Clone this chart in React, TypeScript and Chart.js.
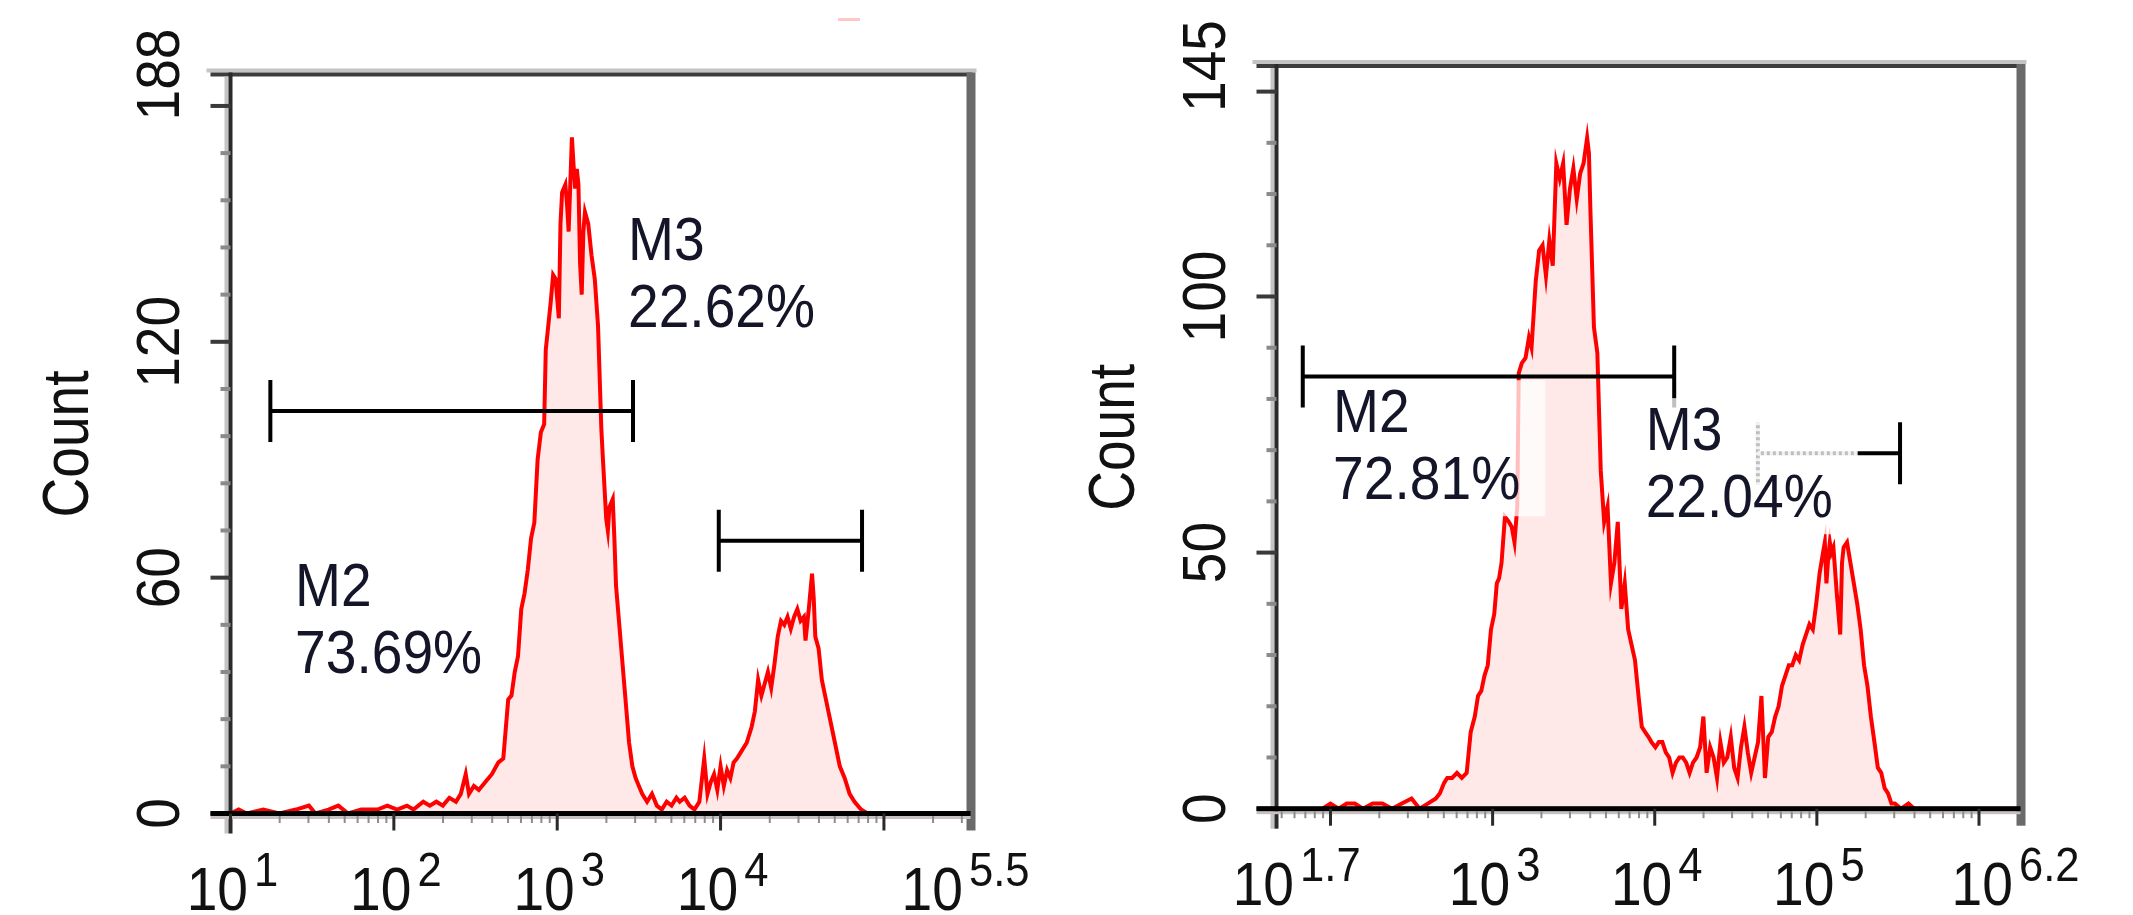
import React, { useEffect, useRef } from "react";
import { Chart, registerables } from "chart.js";

Chart.register(...registerables);

// ---------- Left histogram (log10 of intensity, count) ----------
const leftExp = [
  1.0, 1.05, 1.1, 1.2, 1.3, 1.4, 1.48, 1.52, 1.6, 1.66, 1.72, 1.8,
  1.9, 1.96, 2.02, 2.08, 2.12, 2.18, 2.22, 2.26, 2.3, 2.34, 2.38, 2.41,
  2.44, 2.46, 2.49, 2.52, 2.56, 2.6, 2.64, 2.67, 2.7, 2.72, 2.74, 2.76,
  2.78, 2.8, 2.82, 2.84, 2.86, 2.88, 2.9, 2.92, 2.93, 2.94, 2.96, 2.975,
  2.99, 3.01, 3.02, 3.03, 3.05, 3.06, 3.07, 3.09, 3.1, 3.11, 3.12, 3.13,
  3.14, 3.15, 3.16, 3.17, 3.19, 3.21, 3.23, 3.25, 3.27, 3.28, 3.3, 3.31,
  3.32, 3.34, 3.35, 3.36, 3.38, 3.4, 3.42, 3.44, 3.46, 3.48, 3.5, 3.52,
  3.55, 3.58, 3.61, 3.64, 3.67, 3.7, 3.73, 3.75, 3.78, 3.81, 3.84, 3.87,
  3.9, 3.92, 3.94, 3.96, 3.98, 4.0, 4.02, 4.04, 4.06, 4.08, 4.1, 4.13,
  4.16, 4.19, 4.21, 4.23, 4.25, 4.27, 4.29, 4.31, 4.33, 4.35, 4.37, 4.39,
  4.41, 4.43, 4.45, 4.47, 4.49, 4.51, 4.52, 4.54, 4.56, 4.57, 4.58, 4.6,
  4.62, 4.64, 4.66, 4.68, 4.7, 4.73, 4.76, 4.79, 4.82, 4.86, 4.9, 5.0,
];
const leftCount = [
  0, 1, 0, 1, 0, 1, 2, 0, 1, 2, 0, 1,
  1, 2, 1, 2, 1, 3, 2, 3, 2, 4, 3, 5,
  10, 5, 7, 6, 8, 10, 13, 14, 29, 30, 36, 40,
  52, 56, 62, 70, 74, 90, 97, 99, 118, 122, 130, 137,
  136, 126, 150, 158, 160, 155, 148, 172, 165, 159, 164, 160,
  140, 132, 148, 153, 150, 142, 136, 124, 98, 90, 75, 72,
  78, 80, 70, 58, 48, 38, 28, 18, 12, 9, 7, 5,
  3, 5, 2, 1, 3, 2, 4, 3, 4, 2, 1, 3,
  14, 5, 8, 10, 6, 12, 7, 11, 9, 13, 14, 16,
  18, 22, 26, 34, 30, 33, 36, 32, 38, 45, 49, 48,
  50, 47, 50, 52, 49, 50, 44, 52, 61, 55, 45, 42,
  34, 30, 26, 22, 18, 12, 9, 5, 3, 1, 0, 0,
];

// ---------- Right histogram ----------
const rightExp = [
  1.95, 2.0, 2.05, 2.1, 2.15, 2.2, 2.26, 2.32, 2.38, 2.44, 2.5, 2.55,
  2.6, 2.65, 2.675, 2.7, 2.72, 2.75, 2.78, 2.81, 2.84, 2.865, 2.89, 2.91,
  2.93, 2.95, 2.97, 2.99, 3.01, 3.026, 3.04, 3.055, 3.076, 3.1, 3.118, 3.135,
  3.152, 3.161, 3.18, 3.203, 3.224, 3.24, 3.266, 3.287, 3.308, 3.329, 3.35, 3.371,
  3.393, 3.414, 3.435, 3.456, 3.477, 3.498, 3.519, 3.54, 3.561, 3.583, 3.594, 3.604,
  3.625, 3.646, 3.667, 3.688, 3.709, 3.73, 3.751, 3.772, 3.794, 3.815, 3.836, 3.857,
  3.878, 3.9, 3.92, 3.94, 3.962, 3.98, 4.004, 4.025, 4.047, 4.068, 4.089, 4.11,
  4.131, 4.152, 4.173, 4.194, 4.215, 4.236, 4.258, 4.28, 4.3, 4.32, 4.342, 4.363,
  4.384, 4.405, 4.426, 4.447, 4.469, 4.49, 4.511, 4.532, 4.553, 4.574, 4.595, 4.616,
  4.637, 4.658, 4.68, 4.7, 4.722, 4.743, 4.764, 4.785, 4.806, 4.827, 4.848, 4.87,
  4.891, 4.912, 4.933, 4.954, 4.975, 4.996, 5.017, 5.038, 5.049, 5.059, 5.07, 5.08,
  5.09, 5.102, 5.123, 5.144, 5.155, 5.165, 5.186, 5.207, 5.228, 5.249, 5.27, 5.291,
  5.312, 5.333, 5.355, 5.376, 5.397, 5.418, 5.439, 5.46, 5.481, 5.52, 5.565, 5.6,
];
const rightCount = [
  0, 1, 0, 1, 1, 0, 1, 1, 0, 1, 2, 0,
  1, 2, 3, 5, 6, 6, 7, 6, 7, 15, 18, 22,
  23, 26, 28, 35, 38, 44, 45, 48, 57, 56, 55, 52,
  59, 85, 87, 88, 92, 90, 103, 109, 110, 104, 111, 106,
  126, 123, 126, 114, 121, 125, 119, 124, 126, 131, 128, 116,
  94, 89, 66, 56, 59, 44, 48, 56, 39, 44, 35, 32,
  29, 22, 16, 15, 14, 13, 12, 13, 13, 11, 10, 7,
  9, 10, 10, 9, 7, 9, 10, 12, 18, 7, 12, 10,
  6, 13, 9, 10, 14, 8, 6, 12, 16, 11, 7, 10,
  13, 22, 6, 14, 15, 18, 20, 24, 26, 28, 28, 30,
  29, 32, 34, 36, 35, 40, 46, 50, 52, 44, 49, 52,
  50, 51, 42, 34, 48, 51, 52, 48, 44, 40, 35, 28,
  24, 18, 13, 8, 7, 4, 3, 1, 1, 0, 1, 0,
];

// ---------- Axes ----------
const leftXRange = [1, 5.53];
const rightXRange = [1.667, 6.256];
const leftYMax = 188;
const rightYMax = 145;
const leftYLabelValues = [0, 60, 120, 188];
const leftYLabelTexts = ["0", "60", "120", "188"];
const rightYLabelValues = [0, 50, 100, 145];
const rightYLabelTexts = ["0", "50", "100", "145"];
const leftYMajorTicks = [0, 60, 120, 180];
const rightYMajorTicks = [0, 50, 100, 140];
const leftYTickStep = 12;
const rightYTickStep = 10;
const leftXLabelExp = [1, 2, 3, 4, 5.53];
const leftXLabelSup = ["1", "2", "3", "4", "5.5"];
const rightXLabelExp = [1.667, 3, 4, 5, 6.256];
const rightXLabelSup = ["1.7", "3", "4", "5", "6.2"];

// ---------- Gates (markers) ----------
const leftGateStart = [1.244, 3.989];
const leftGateEnd = [3.464, 4.866];
const leftGateLevel = [102.4, 69.4];
const rightGateStart = [1.829, 4.636];
const rightGateEnd = [4.12, 5.513];
const rightGateLevel = [84.4, 69.4];

// ---------- Gate labels ----------
const leftLabelNames = ["M2", "M3"];
const leftLabelPercents = ["73.69%", "22.62%"];
const leftLabelExp = [1.395, 3.433];
const leftLabelCount = [52.8, 140.8];
const rightLabelNames = ["M2", "M3"];
const rightLabelPercents = ["72.81%", "22.04%"];
const rightLabelExp = [2.016, 3.944];
const rightLabelCount = [73.5, 70.0];

const FONT = '"Liberation Sans", Arial, Helvetica, sans-serif';
const SX = 0.89;

type Spec = {
  exp: number[];
  count: number[];
  xRange: number[];
  yMax: number;
  width: number;
  height: number;
  L: number;
  R: number;
  T: number;
  B: number;
  yLabelValues: number[];
  yLabelTexts: string[];
  yMajor: number[];
  yStep: number;
  xLabelExp: number[];
  xLabelSup: string[];
  gateStart: number[];
  gateEnd: number[];
  gateLevel: number[];
  labelNames: string[];
  labelPercents: string[];
  labelExp: number[];
  labelCount: number[];
  boxed: boolean;
  artifact: boolean;
};

function drawText(
  ctx: CanvasRenderingContext2D,
  s: string,
  x: number,
  y: number,
  size: number,
  sx: number,
  align: CanvasTextAlign,
  color: string
) {
  ctx.save();
  ctx.translate(x, y);
  ctx.scale(sx, 1);
  ctx.font = `${size}px ${FONT}`;
  ctx.textAlign = align;
  ctx.textBaseline = "alphabetic";
  ctx.fillStyle = color;
  ctx.fillText(s, 0, 0);
  ctx.restore();
}

function drawRotated(
  ctx: CanvasRenderingContext2D,
  s: string,
  cx: number,
  cy: number,
  size: number,
  sx: number,
  color: string
) {
  ctx.save();
  ctx.translate(cx, cy);
  ctx.rotate(-Math.PI / 2);
  ctx.scale(sx, 1);
  ctx.font = `${size}px ${FONT}`;
  ctx.textAlign = "center";
  ctx.textBaseline = "alphabetic";
  ctx.fillStyle = color;
  ctx.fillText(s, 0, 0.358 * size);
  ctx.restore();
}

function makePlugin(spec: Spec) {
  return {
    id: "flowDeco",
    afterDatasetsDraw(chart: any) {
      const ctx: CanvasRenderingContext2D = chart.ctx;
      const xs = chart.scales.x;
      const ys = chart.scales.y;
      const px = (e: number) => xs.getPixelForValue(Math.pow(10, e));
      const py = (v: number) => ys.getPixelForValue(v);
      const { left: L, right: R, top: T, bottom: B } = chart.chartArea;
      ctx.save();

      // gates
      ctx.strokeStyle = "#000";
      ctx.lineWidth = 4;
      ctx.lineCap = "butt";
      spec.gateStart.forEach((s, i) => {
        const x1 = px(s);
        const x2 = px(spec.gateEnd[i]);
        const y = py(spec.gateLevel[i]);
        ctx.beginPath();
        ctx.moveTo(x1, y);
        ctx.lineTo(x2, y);
        ctx.moveTo(x1, y - 31);
        ctx.lineTo(x1, y + 31);
        ctx.moveTo(x2, y - 31);
        ctx.lineTo(x2, y + 31);
        ctx.stroke();
      });

      // labels (with translucent backing boxes where the original had them)
      const textColor = "#15152a";
      const lineGap = 67;
      spec.labelNames.forEach((name, i) => {
        const x = px(spec.labelExp[i]);
        const y = py(spec.labelCount[i]);
        if (spec.boxed) {
          ctx.font = `62px ${FONT}`;
          const w =
            Math.max(
              ctx.measureText(name).width,
              ctx.measureText(spec.labelPercents[i]).width
            ) * SX;
          ctx.fillStyle = "rgba(255,255,255,0.75)";
          ctx.fillRect(x, y - 52, w + 25, lineGap + 52 + 17);
          // dotted look of the faded marker part
          ctx.strokeStyle = "rgba(255,255,255,0.8)";
          ctx.lineWidth = 5;
          ctx.setLineDash([3, 3]);
          const gy = py(spec.gateLevel[i]);
          const gx = px(spec.gateStart[i]);
          ctx.beginPath();
          if (gx > x && gx < x + w + 25) {
            ctx.moveTo(gx, gy);
            ctx.lineTo(x + w + 25, gy);
            ctx.moveTo(gx, gy - 31);
            ctx.lineTo(gx, gy + 31);
          }
          ctx.stroke();
          ctx.setLineDash([]);
        }
        drawText(ctx, name, x, y, 62, SX, "left", textColor);
        drawText(ctx, spec.labelPercents[i], x, y + lineGap, 62, SX, "left", textColor);
      });

      // frame: top
      ctx.fillStyle = "#c4c4c4";
      ctx.fillRect(L - 24, T - 6, R - L + 30, 4);
      ctx.fillStyle = "#3c3c3c";
      ctx.fillRect(L - 20, T - 2, R - L + 22, 4);
      // left
      ctx.fillStyle = "#c4c4c4";
      ctx.fillRect(L - 6, T + 2, 4, B - T + 18);
      ctx.fillStyle = "#2a2a2a";
      ctx.fillRect(L - 2, T - 2, 4, B - T + 22);
      // right
      ctx.fillStyle = "#6a6a6a";
      ctx.fillRect(R - 4, T - 2, 9, B - T + 19);

      // y ticks
      for (let v = 0; v <= spec.yMax; v += spec.yStep) {
        const y = py(v);
        if (spec.yMajor.indexOf(v) >= 0) {
          ctx.fillStyle = "#3a3a3a";
          ctx.fillRect(L - 20, y - 2, 20, 4);
        } else {
          ctx.fillStyle = "#8a8a8a";
          ctx.fillRect(L - 10, y - 2, 10, 4);
        }
      }

      // bottom axis
      ctx.fillStyle = "#c6c0c0";
      ctx.fillRect(L - 20, B + 2.5, R - L + 20, 3);
      ctx.fillStyle = "#000";
      ctx.fillRect(L - 20, B - 2.5, R - L + 20, 5);

      // x ticks
      const [xMin, xMax] = spec.xRange;
      for (let d = Math.floor(xMin); d <= Math.ceil(xMax); d++) {
        for (let k = 1; k <= 9; k++) {
          const e = d + Math.log10(k);
          if (e < xMin - 1e-6 || e > xMax + 1e-6) continue;
          const x = px(e);
          if (k === 1) {
            ctx.fillStyle = "#2a2a2a";
            ctx.fillRect(x - 1.5, B, 3, 17);
          } else {
            ctx.fillStyle = "#8c8c8c";
            ctx.fillRect(x - 1, B + 2.5, 2, 7);
          }
        }
      }

      // y labels
      spec.yLabelValues.forEach((v, i) => {
        drawRotated(ctx, spec.yLabelTexts[i], L - 73.5, py(v), 62, SX, "#111");
      });
      // axis title
      drawRotated(ctx, "Count", L - 165, (T + B) / 2, 64, 0.86, "#111");

      // x labels: 10 with superscript exponent
      spec.xLabelExp.forEach((e, i) => {
        const x = px(e);
        const sup = spec.xLabelSup[i];
        ctx.font = `62px ${FONT}`;
        const w1 = ctx.measureText("10").width * SX;
        ctx.font = `49px ${FONT}`;
        const w2 = ctx.measureText(sup).width * SX;
        const wOne = ctx.measureText("1").width * SX;
        const gap = 6;
        const last = i === spec.xLabelExp.length - 1;
        const start = last
          ? x - 5 - (w1 + gap + w2) / 2
          : x + 2 - (w1 + gap + wOne) / 2;
        drawText(ctx, "10", start, B + 96, 62, SX, "left", "#111");
        drawText(ctx, sup, start + w1 + gap, B + 72, 49, SX, "left", "#111");
      });

      if (spec.artifact) {
        ctx.fillStyle = "#ffc8c8";
        ctx.fillRect(838, 18, 22, 3);
      }
      ctx.restore();
    },
  };
}

function makeChart(canvas: HTMLCanvasElement, spec: Spec) {
  const points = spec.exp.map((e, i) => ({ x: Math.pow(10, e), y: spec.count[i] }));
  return new Chart(canvas, {
    type: "line",
    data: {
      datasets: [
        {
          data: points,
          borderColor: "#ff0000",
          borderWidth: 4,
          backgroundColor: "rgba(255,0,0,0.09)",
          fill: "origin",
          pointRadius: 0,
          tension: 0,
        },
      ],
    },
    options: {
      responsive: false,
      animation: false,
      events: [],
      layout: {
        padding: {
          left: spec.L,
          right: spec.width - spec.R,
          top: spec.T,
          bottom: spec.height - spec.B,
        },
      },
      plugins: { legend: { display: false }, tooltip: { enabled: false } },
      scales: {
        x: {
          type: "logarithmic",
          min: Math.pow(10, spec.xRange[0]),
          max: Math.pow(10, spec.xRange[1]),
          display: false,
        },
        y: { type: "linear", min: 0, max: spec.yMax, display: false },
      },
    } as any,
    plugins: [makePlugin(spec) as any],
  });
}

const leftSpec: Spec = {
  exp: leftExp,
  count: leftCount,
  xRange: leftXRange,
  yMax: leftYMax,
  width: 1066,
  height: 915,
  L: 230.5,
  R: 970.5,
  T: 74.5,
  B: 813.5,
  yLabelValues: leftYLabelValues,
  yLabelTexts: leftYLabelTexts,
  yMajor: leftYMajorTicks,
  yStep: leftYTickStep,
  xLabelExp: leftXLabelExp,
  xLabelSup: leftXLabelSup,
  gateStart: leftGateStart,
  gateEnd: leftGateEnd,
  gateLevel: leftGateLevel,
  labelNames: leftLabelNames,
  labelPercents: leftLabelPercents,
  labelExp: leftLabelExp,
  labelCount: leftLabelCount,
  boxed: false,
  artifact: true,
};

const rightSpec: Spec = {
  exp: rightExp,
  count: rightCount,
  xRange: rightXRange,
  yMax: rightYMax,
  width: 1067,
  height: 915,
  L: 210.5,
  R: 954.5,
  T: 66,
  B: 808.7,
  yLabelValues: rightYLabelValues,
  yLabelTexts: rightYLabelTexts,
  yMajor: rightYMajorTicks,
  yStep: rightYTickStep,
  xLabelExp: rightXLabelExp,
  xLabelSup: rightXLabelSup,
  gateStart: rightGateStart,
  gateEnd: rightGateEnd,
  gateLevel: rightGateLevel,
  labelNames: rightLabelNames,
  labelPercents: rightLabelPercents,
  labelExp: rightLabelExp,
  labelCount: rightLabelCount,
  boxed: true,
  artifact: false,
};

export default function App() {
  const leftRef = useRef<HTMLCanvasElement>(null);
  const rightRef = useRef<HTMLCanvasElement>(null);
  useEffect(() => {
    const c1 = makeChart(leftRef.current as HTMLCanvasElement, leftSpec);
    const c2 = makeChart(rightRef.current as HTMLCanvasElement, rightSpec);
    return () => {
      c1.destroy();
      c2.destroy();
    };
  }, []);
  return (
    <div
      style={{
        position: "absolute",
        left: 0,
        top: 0,
        width: 2133,
        height: 915,
        background: "#fff",
        overflow: "hidden",
      }}
    >
      <canvas
        ref={leftRef}
        width={1066}
        height={915}
        style={{ position: "absolute", left: 0, top: 0 }}
      />
      <canvas
        ref={rightRef}
        width={1067}
        height={915}
        style={{ position: "absolute", left: 1066, top: 0 }}
      />
    </div>
  );
}
